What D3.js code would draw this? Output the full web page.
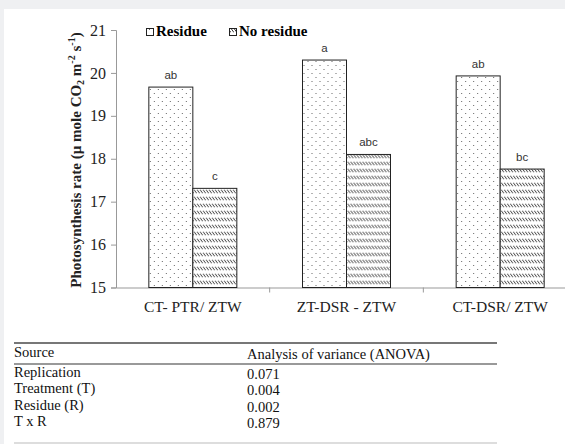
<html>
<head>
<script src="https://d3js.org/d3.v7.min.js"></script>
<style>
body { margin: 0; background: #eff0f2; }
text { font-family: "Liberation Serif", "Times New Roman", serif; }
.letter { font-family: "Liberation Sans", Arial, sans-serif; font-size: 11.5px; fill: #333; }
</style>
</head>
<body>
<script>
// chart data
var categories = ["CT- PTR/ ZTW", "ZT-DSR - ZTW", "CT-DSR/ ZTW"];
var residue = [19.67, 20.30, 19.93];
var noResidue = [17.31, 18.10, 17.76];
var residueLetters = ["ab", "a", "ab"];
var noResidueLetters = ["c", "abc", "bc"];
var yTicks = [15, 16, 17, 18, 19, 20, 21];

// ANOVA table
var anovaSource = ["Replication", "Treatment (T)", "Residue (R)", "T x R"];
var anovaP = ["0.071", "0.004", "0.002", "0.879"];

var W = 565, H = 444;
var svg = d3.select("body").append("svg")
    .attr("width", W).attr("height", H)
    .style("display", "block");

svg.append("rect").attr("x", 4).attr("y", 9)
    .attr("width", W - 4).attr("height", H - 9).attr("fill", "#fff");

var defs = svg.append("defs");
var dots = defs.append("pattern").attr("id", "dots")
    .attr("patternUnits", "userSpaceOnUse").attr("width", 8).attr("height", 8);
dots.append("rect").attr("width", 8).attr("height", 8).attr("fill", "#fff");
dots.append("rect").attr("x", 1).attr("y", 1).attr("width", 1).attr("height", 1).attr("fill", "#666");
dots.append("rect").attr("x", 5).attr("y", 5).attr("width", 1).attr("height", 1).attr("fill", "#666");

var hatch = defs.append("pattern").attr("id", "hatch")
    .attr("patternUnits", "userSpaceOnUse").attr("width", 3).attr("height", 7);
hatch.append("rect").attr("width", 3).attr("height", 7).attr("fill", "#fff");
hatch.append("line").attr("x1", 0).attr("y1", 0.5).attr("x2", 3).attr("y2", 4.5)
    .attr("stroke", "#222").attr("stroke-width", 0.9);

var mLeft = 116, mRight = 577, mTop = 30, mBottom = 287.5;

var x = d3.scaleBand().domain(categories).range([mLeft, mRight]);
var xs = d3.scaleBand().domain(["r", "n"]).range([0, 88]);
var y = d3.scaleLinear().domain([15, 21]).range([mBottom, mTop]);

// axes
var yAxis = svg.append("g").attr("transform", "translate(" + mLeft + ",0)")
    .call(d3.axisLeft(y).tickValues(yTicks).tickSize(5).tickFormat(d3.format("d")))
    .attr("font-family", null).attr("font-size", null);
yAxis.select(".domain").attr("stroke", "#999");
yAxis.selectAll(".tick line").attr("stroke", "#999");
yAxis.selectAll(".tick text").style("font-size", "16px").attr("fill", "#222").attr("x", -10);

var xAxis = svg.append("g").attr("transform", "translate(0," + mBottom + ")")
    .call(d3.axisBottom(x).tickSize(0).tickSizeOuter(0))
    .attr("font-family", null).attr("font-size", null);
xAxis.select(".domain").attr("stroke", "#999");
xAxis.selectAll(".tick text").style("font-size", "15.5px").attr("fill", "#222")
    .attr("y", 13).attr("dy", "0.71em");
// group separators
svg.append("g").selectAll("line").data(categories.slice(1)).enter().append("line")
    .attr("x1", function(d) { return x(d); }).attr("x2", function(d) { return x(d); })
    .attr("y1", mBottom).attr("y2", mBottom + 5).attr("stroke", "#999");

var groups = categories.map(function(c, i) {
    return { cat: c, r: residue[i], n: noResidue[i], rl: residueLetters[i], nl: noResidueLetters[i] };
});

var g = svg.selectAll(".grp").data(groups).enter().append("g")
    .attr("transform", function(d) { return "translate(" + (x(d.cat) + x.bandwidth() / 2 - 44) + ",0)"; });

g.append("rect")
    .attr("x", xs("r")).attr("width", xs.bandwidth())
    .attr("y", function(d) { return y(d.r); })
    .attr("height", function(d) { return mBottom - y(d.r); })
    .attr("fill", "url(#dots)").attr("stroke", "#222").attr("stroke-width", 1);
g.append("rect")
    .attr("x", xs("n")).attr("width", xs.bandwidth())
    .attr("y", function(d) { return y(d.n); })
    .attr("height", function(d) { return mBottom - y(d.n); })
    .attr("fill", "url(#hatch)").attr("stroke", "#222").attr("stroke-width", 1);

g.append("text").attr("class", "letter").attr("text-anchor", "middle")
    .attr("x", xs("r") + xs.bandwidth() / 2)
    .attr("y", function(d) { return y(d.r) - 8; })
    .text(function(d) { return d.rl; });
g.append("text").attr("class", "letter").attr("text-anchor", "middle")
    .attr("x", xs("n") + xs.bandwidth() / 2)
    .attr("y", function(d) { return y(d.n) - 8; })
    .text(function(d) { return d.nl; });

// legend
var leg = svg.append("g").attr("font-weight", "bold").style("font-size", "15px");
leg.append("rect").attr("x", 146.5).attr("y", 28.5).attr("width", 7).attr("height", 7)
    .attr("fill", "url(#dots)").attr("stroke", "#222");
leg.append("text").attr("x", 156).attr("y", 36).text("Residue");
leg.append("rect").attr("x", 229.5).attr("y", 28.5).attr("width", 7).attr("height", 7)
    .attr("fill", "url(#hatch)").attr("stroke", "#222");
leg.append("text").attr("x", 239).attr("y", 36).text("No residue");

// y label
var yl = svg.append("text")
    .attr("transform", "translate(81,160) rotate(-90)")
    .attr("text-anchor", "middle").attr("font-weight", "bold").style("font-size", "15px")
    .attr("fill", "#222");
yl.append("tspan").text("Photosynthesis rate (\u00b5 mole CO");
yl.append("tspan").style("font-size", "10px").attr("dy", 3).text("2");
yl.append("tspan").attr("dy", -3).text(" m");
yl.append("tspan").style("font-size", "10px").attr("dy", -6).text("-2");
yl.append("tspan").attr("dy", 6).text(" s");
yl.append("tspan").style("font-size", "10px").attr("dy", -6).text("-1");
yl.append("tspan").attr("dy", 6).text(")");

// table
var tx0 = 14, tx1 = 497, col2 = 247;
var tbl = svg.append("g").style("font-size", "14.5px").attr("fill", "#111");
tbl.append("line").attr("x1", tx0).attr("x2", tx1).attr("y1", 343).attr("y2", 343)
    .attr("stroke", "#777").attr("stroke-width", 2);
tbl.append("line").attr("x1", tx0).attr("x2", tx1).attr("y1", 364).attr("y2", 364)
    .attr("stroke", "#777").attr("stroke-width", 1.5);
tbl.append("line").attr("x1", tx0).attr("x2", tx1).attr("y1", 443).attr("y2", 443)
    .attr("stroke", "#bbb").attr("stroke-width", 1);
tbl.append("text").attr("x", tx0).attr("y", 357).text("Source");
tbl.append("text").attr("x", col2).attr("y", 359).text("Analysis of variance (ANOVA)");

var rowY = d3.scaleBand().domain(anovaSource).range([365, 430]);
anovaSource.forEach(function(s, i) {
    tbl.append("text").attr("x", tx0).attr("y", rowY(s) + 12).text(s);
    tbl.append("text").attr("x", col2).attr("y", rowY(s) + 14).text(anovaP[i]);
});
</script>
</body>
</html>
